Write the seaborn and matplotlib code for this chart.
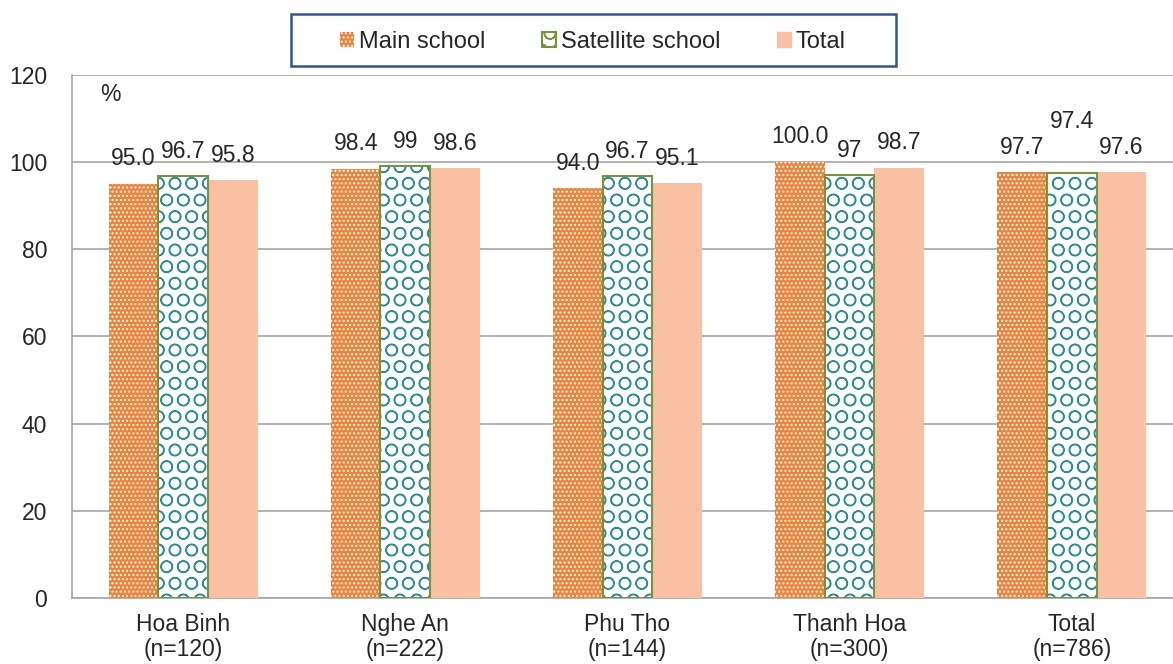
import pandas as pd
import matplotlib
matplotlib.use("Agg")
import matplotlib.pyplot as plt
import seaborn as sns
from matplotlib.patches import Patch, Rectangle

# Data
regions = ["Hoa Binh\n(n=120)", "Nghe An\n(n=222)", "Phu Tho\n(n=144)",
           "Thanh Hoa\n(n=300)", "Total\n(n=786)"]
series = ["Main school", "Satellite school", "Total"]
main_school = [95.0, 98.4, 94.0, 100.0, 97.7]
satellite_school = [96.7, 99, 96.7, 97, 97.4]
total = [95.8, 98.6, 95.1, 98.7, 97.6]
main_labels = ["95.0", "98.4", "94.0", "100.0", "97.7"]
satellite_labels = ["96.7", "99", "96.7", "97", "97.4"]
total_labels = ["95.8", "98.6", "95.1", "98.7", "97.6"]

df = pd.DataFrame({
    "region": regions * 3,
    "series": [s for s in series for _ in regions],
    "value": main_school + satellite_school + total,
})

sns.set_theme(style="white")
plt.rcParams["font.family"] = ["Liberation Sans", "DejaVu Sans"]
plt.rcParams["hatch.linewidth"] = 1.0

ORANGE = "#EE8236"
TEAL = "#2E8CA0"
GREEN = "#77933C"
PEACH = "#F9C0A4"
GRID = "#A6A6A6"
TXT = "#262626"
FS = 16.5

fig = plt.figure(figsize=(11.73, 6.64), dpi=100)
ax = fig.add_axes([0.0614, 0.0994, 0.947, 0.788])

sns.barplot(data=df, x="region", y="value", hue="series", hue_order=series,
            palette=[ORANGE, "white", PEACH], saturation=1, width=0.67, gap=0,
            legend=False, ax=ax, zorder=3)

main_c, sat_c, tot_c = ax.containers
for p in main_c:
    p.set_facecolor(ORANGE)
    p.set_edgecolor("white")
    p.set_hatch("....")
    p.set_linewidth(0)
for p in sat_c:
    p.set_facecolor("white")
    p.set_edgecolor(TEAL)
    p.set_hatch("O")
    p.set_linewidth(0)
    ax.add_patch(Rectangle((p.get_x(), p.get_y()), p.get_width(), p.get_height(),
                           fill=False, edgecolor=GREEN, linewidth=1.5, zorder=4))
for p in tot_c:
    p.set_edgecolor(PEACH)
    p.set_linewidth(0)

# data labels (Excel pushes the Total/satellite one up to avoid overlap)
for cont, labels in zip(ax.containers, [main_labels, satellite_labels, total_labels]):
    for i, (p, lab) in enumerate(zip(cont, labels)):
        dy = 18
        if cont is sat_c and i == 4:
            dy = 37
        ax.annotate(lab, (p.get_x() + p.get_width() / 2, p.get_height()),
                    xytext=(0, dy), textcoords="offset points",
                    ha="center", va="center", fontsize=FS, color=TXT, zorder=5)

ax.set_ylim(0, 120)
ax.set_yticks(range(0, 121, 20))
ax.set_xlim(-0.5, 4.5)
ax.yaxis.grid(True, color=GRID, linewidth=1.2, zorder=0)
ax.set_axisbelow(True)
ax.set_xlabel("")
ax.set_ylabel("")
for side in ["top", "right"]:
    ax.spines[side].set_visible(False)
for side in ["left", "bottom"]:
    ax.spines[side].set_color(GRID)
    ax.spines[side].set_linewidth(1.2)
ax.tick_params(axis="y", labelsize=FS, length=2, color=GRID, pad=16, labelcolor=TXT)
ax.tick_params(axis="x", labelsize=FS, length=0, pad=11, labelcolor=TXT)
for t in ax.get_xticklabels():
    t.set_linespacing(1.12)
ax.text(0.025, 0.985, "%", transform=ax.transAxes, fontsize=FS, va="top",
        ha="left", color=TXT)

handles = [
    Patch(facecolor=ORANGE, edgecolor="white", hatch="....", linewidth=0, label=series[0]),
    Patch(facecolor="white", edgecolor=GREEN, hatch="O", linewidth=1.5, label=series[1]),
    Patch(facecolor=PEACH, edgecolor=PEACH, label=series[2]),
]
leg = fig.legend(handles=handles, loc="center", bbox_to_anchor=(0.5055, 0.937),
                 ncol=3, fontsize=17, frameon=False,
                 handlelength=0.6, handleheight=0.6, handletextpad=0.2,
                 columnspacing=2.4, borderaxespad=0)
for t in leg.get_texts():
    t.set_color(TXT)
# legend box drawn wider than the entries, as in the original
fig.patches.append(Rectangle((0.2485, 0.9006), 0.515, 0.0783, transform=fig.transFigure,
                             fill=False, edgecolor="#2F5597", linewidth=1.8))

fig.savefig("out.png", dpi=100)
